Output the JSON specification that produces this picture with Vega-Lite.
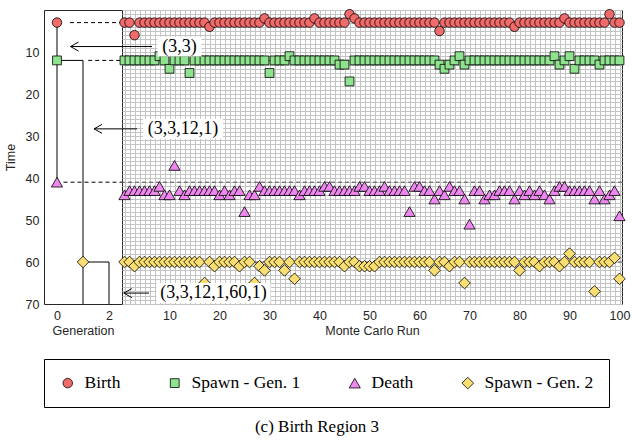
{
"$schema":"https://vega.github.io/schema/vega-lite/v6.json",
"background":"white",
"padding":{"left":3,"top":7,"right":10,"bottom":4},
"bounds":"flush",
"spacing":0,
"title":{"text":"(c) Birth Region 3","orient":"bottom","anchor":"middle","font":"Liberation Serif","fontSize":17,"fontWeight":"normal","color":"black","offset":11},
"config":{
 "view":{"stroke":"#262626","strokeWidth":1},
 "axis":{"labelFont":"Liberation Sans","titleFont":"Liberation Sans","labelFontSize":12.5,"titleFontSize":12.5,"titleFontWeight":"normal","labelColor":"#262626","titleColor":"#262626","domain":false,"ticks":false,"grid":false},
 "legend":{"orient":"bottom","direction":"horizontal","strokeColor":"black","strokeWidth":1,"padding":15,"labelFont":"Liberation Serif","labelFontSize":17.5,"labelColor":"black","symbolSize":130,"symbolStrokeColor":"black","symbolStrokeWidth":0.8,"columnPadding":45,"labelOffset":8,"offset":21,"labelLimit":300}
},
"datasets":{
"runs":[
{"r":1,"s":"Birth","t":3},{"r":2,"s":"Birth","t":3},{"r":3,"s":"Birth","t":6},{"r":4,"s":"Birth","t":3},{"r":5,"s":"Birth","t":3},{"r":6,"s":"Birth","t":3},{"r":7,"s":"Birth","t":3},{"r":8,"s":"Birth","t":3},{"r":9,"s":"Birth","t":3},{"r":10,"s":"Birth","t":3},
{"r":11,"s":"Birth","t":3},{"r":12,"s":"Birth","t":3},{"r":13,"s":"Birth","t":3},{"r":14,"s":"Birth","t":3},{"r":15,"s":"Birth","t":3},{"r":16,"s":"Birth","t":3},{"r":17,"s":"Birth","t":3},{"r":18,"s":"Birth","t":4},{"r":19,"s":"Birth","t":3},{"r":20,"s":"Birth","t":3},
{"r":21,"s":"Birth","t":3},{"r":22,"s":"Birth","t":3},{"r":23,"s":"Birth","t":3},{"r":24,"s":"Birth","t":3},{"r":25,"s":"Birth","t":3},{"r":26,"s":"Birth","t":3},{"r":27,"s":"Birth","t":3},{"r":28,"s":"Birth","t":3},{"r":29,"s":"Birth","t":2},{"r":30,"s":"Birth","t":3},
{"r":31,"s":"Birth","t":3},{"r":32,"s":"Birth","t":3},{"r":33,"s":"Birth","t":3},{"r":34,"s":"Birth","t":3},{"r":35,"s":"Birth","t":3},{"r":36,"s":"Birth","t":3},{"r":37,"s":"Birth","t":3},{"r":38,"s":"Birth","t":3},{"r":39,"s":"Birth","t":2},{"r":40,"s":"Birth","t":3},
{"r":41,"s":"Birth","t":3},{"r":42,"s":"Birth","t":3},{"r":43,"s":"Birth","t":3},{"r":44,"s":"Birth","t":3},{"r":45,"s":"Birth","t":3},{"r":46,"s":"Birth","t":1},{"r":47,"s":"Birth","t":2},{"r":48,"s":"Birth","t":3},{"r":49,"s":"Birth","t":3},{"r":50,"s":"Birth","t":3},
{"r":51,"s":"Birth","t":3},{"r":52,"s":"Birth","t":3},{"r":53,"s":"Birth","t":3},{"r":54,"s":"Birth","t":3},{"r":55,"s":"Birth","t":3},{"r":56,"s":"Birth","t":3},{"r":57,"s":"Birth","t":3},{"r":58,"s":"Birth","t":3},{"r":59,"s":"Birth","t":3},{"r":60,"s":"Birth","t":3},
{"r":61,"s":"Birth","t":3},{"r":62,"s":"Birth","t":3},{"r":63,"s":"Birth","t":3},{"r":64,"s":"Birth","t":5},{"r":65,"s":"Birth","t":3},{"r":66,"s":"Birth","t":3},{"r":67,"s":"Birth","t":3},{"r":68,"s":"Birth","t":3},{"r":69,"s":"Birth","t":3},{"r":70,"s":"Birth","t":3},
{"r":71,"s":"Birth","t":3},{"r":72,"s":"Birth","t":3},{"r":73,"s":"Birth","t":3},{"r":74,"s":"Birth","t":3},{"r":75,"s":"Birth","t":3},{"r":76,"s":"Birth","t":3},{"r":77,"s":"Birth","t":3},{"r":78,"s":"Birth","t":3},{"r":79,"s":"Birth","t":4},{"r":80,"s":"Birth","t":3},
{"r":81,"s":"Birth","t":3},{"r":82,"s":"Birth","t":3},{"r":83,"s":"Birth","t":3},{"r":84,"s":"Birth","t":3},{"r":85,"s":"Birth","t":3},{"r":86,"s":"Birth","t":3},{"r":87,"s":"Birth","t":3},{"r":88,"s":"Birth","t":3},{"r":89,"s":"Birth","t":2},{"r":90,"s":"Birth","t":3},
{"r":91,"s":"Birth","t":3},{"r":92,"s":"Birth","t":3},{"r":93,"s":"Birth","t":3},{"r":94,"s":"Birth","t":3},{"r":95,"s":"Birth","t":3},{"r":96,"s":"Birth","t":3},{"r":97,"s":"Birth","t":3},{"r":98,"s":"Birth","t":1},{"r":99,"s":"Birth","t":3},{"r":100,"s":"Birth","t":3},
{"r":1,"s":"Spawn - Gen. 1","t":12},{"r":2,"s":"Spawn - Gen. 1","t":12},{"r":3,"s":"Spawn - Gen. 1","t":12},{"r":4,"s":"Spawn - Gen. 1","t":12},{"r":5,"s":"Spawn - Gen. 1","t":12},{"r":6,"s":"Spawn - Gen. 1","t":12},{"r":7,"s":"Spawn - Gen. 1","t":12},{"r":8,"s":"Spawn - Gen. 1","t":11},{"r":9,"s":"Spawn - Gen. 1","t":12},{"r":10,"s":"Spawn - Gen. 1","t":14},
{"r":11,"s":"Spawn - Gen. 1","t":12},{"r":12,"s":"Spawn - Gen. 1","t":12},{"r":13,"s":"Spawn - Gen. 1","t":12},{"r":14,"s":"Spawn - Gen. 1","t":15},{"r":15,"s":"Spawn - Gen. 1","t":12},{"r":16,"s":"Spawn - Gen. 1","t":12},{"r":17,"s":"Spawn - Gen. 1","t":12},{"r":18,"s":"Spawn - Gen. 1","t":12},{"r":19,"s":"Spawn - Gen. 1","t":12},{"r":20,"s":"Spawn - Gen. 1","t":12},
{"r":21,"s":"Spawn - Gen. 1","t":12},{"r":22,"s":"Spawn - Gen. 1","t":12},{"r":23,"s":"Spawn - Gen. 1","t":12},{"r":24,"s":"Spawn - Gen. 1","t":12},{"r":25,"s":"Spawn - Gen. 1","t":12},{"r":26,"s":"Spawn - Gen. 1","t":12},{"r":27,"s":"Spawn - Gen. 1","t":12},{"r":28,"s":"Spawn - Gen. 1","t":12},{"r":29,"s":"Spawn - Gen. 1","t":12},{"r":30,"s":"Spawn - Gen. 1","t":15},
{"r":31,"s":"Spawn - Gen. 1","t":12},{"r":32,"s":"Spawn - Gen. 1","t":12},{"r":33,"s":"Spawn - Gen. 1","t":12},{"r":34,"s":"Spawn - Gen. 1","t":11},{"r":35,"s":"Spawn - Gen. 1","t":12},{"r":36,"s":"Spawn - Gen. 1","t":12},{"r":37,"s":"Spawn - Gen. 1","t":12},{"r":38,"s":"Spawn - Gen. 1","t":12},{"r":39,"s":"Spawn - Gen. 1","t":12},{"r":40,"s":"Spawn - Gen. 1","t":12},
{"r":41,"s":"Spawn - Gen. 1","t":12},{"r":42,"s":"Spawn - Gen. 1","t":12},{"r":43,"s":"Spawn - Gen. 1","t":12},{"r":44,"s":"Spawn - Gen. 1","t":13},{"r":45,"s":"Spawn - Gen. 1","t":13},{"r":46,"s":"Spawn - Gen. 1","t":17},{"r":47,"s":"Spawn - Gen. 1","t":12},{"r":48,"s":"Spawn - Gen. 1","t":12},{"r":49,"s":"Spawn - Gen. 1","t":12},{"r":50,"s":"Spawn - Gen. 1","t":12},
{"r":51,"s":"Spawn - Gen. 1","t":12},{"r":52,"s":"Spawn - Gen. 1","t":12},{"r":53,"s":"Spawn - Gen. 1","t":12},{"r":54,"s":"Spawn - Gen. 1","t":12},{"r":55,"s":"Spawn - Gen. 1","t":12},{"r":56,"s":"Spawn - Gen. 1","t":12},{"r":57,"s":"Spawn - Gen. 1","t":12},{"r":58,"s":"Spawn - Gen. 1","t":12},{"r":59,"s":"Spawn - Gen. 1","t":12},{"r":60,"s":"Spawn - Gen. 1","t":12},
{"r":61,"s":"Spawn - Gen. 1","t":12},{"r":62,"s":"Spawn - Gen. 1","t":12},{"r":63,"s":"Spawn - Gen. 1","t":12},{"r":64,"s":"Spawn - Gen. 1","t":13},{"r":65,"s":"Spawn - Gen. 1","t":14},{"r":66,"s":"Spawn - Gen. 1","t":13},{"r":67,"s":"Spawn - Gen. 1","t":12},{"r":68,"s":"Spawn - Gen. 1","t":11},{"r":69,"s":"Spawn - Gen. 1","t":13},{"r":70,"s":"Spawn - Gen. 1","t":12},
{"r":71,"s":"Spawn - Gen. 1","t":12},{"r":72,"s":"Spawn - Gen. 1","t":12},{"r":73,"s":"Spawn - Gen. 1","t":12},{"r":74,"s":"Spawn - Gen. 1","t":12},{"r":75,"s":"Spawn - Gen. 1","t":12},{"r":76,"s":"Spawn - Gen. 1","t":12},{"r":77,"s":"Spawn - Gen. 1","t":12},{"r":78,"s":"Spawn - Gen. 1","t":12},{"r":79,"s":"Spawn - Gen. 1","t":12},{"r":80,"s":"Spawn - Gen. 1","t":12},
{"r":81,"s":"Spawn - Gen. 1","t":12},{"r":82,"s":"Spawn - Gen. 1","t":12},{"r":83,"s":"Spawn - Gen. 1","t":12},{"r":84,"s":"Spawn - Gen. 1","t":12},{"r":85,"s":"Spawn - Gen. 1","t":12},{"r":86,"s":"Spawn - Gen. 1","t":12},{"r":87,"s":"Spawn - Gen. 1","t":11},{"r":88,"s":"Spawn - Gen. 1","t":13},{"r":89,"s":"Spawn - Gen. 1","t":12},{"r":90,"s":"Spawn - Gen. 1","t":11},
{"r":91,"s":"Spawn - Gen. 1","t":14},{"r":92,"s":"Spawn - Gen. 1","t":12},{"r":93,"s":"Spawn - Gen. 1","t":12},{"r":94,"s":"Spawn - Gen. 1","t":12},{"r":95,"s":"Spawn - Gen. 1","t":12},{"r":96,"s":"Spawn - Gen. 1","t":13},{"r":97,"s":"Spawn - Gen. 1","t":12},{"r":98,"s":"Spawn - Gen. 1","t":12},{"r":99,"s":"Spawn - Gen. 1","t":12},{"r":100,"s":"Spawn - Gen. 1","t":12},
{"r":1,"s":"Death","t":44},{"r":2,"s":"Death","t":43},{"r":3,"s":"Death","t":43},{"r":4,"s":"Death","t":43},{"r":5,"s":"Death","t":43},{"r":6,"s":"Death","t":43},{"r":7,"s":"Death","t":43},{"r":8,"s":"Death","t":42},{"r":9,"s":"Death","t":44},{"r":10,"s":"Death","t":44},
{"r":11,"s":"Death","t":37},{"r":12,"s":"Death","t":43},{"r":13,"s":"Death","t":44},{"r":14,"s":"Death","t":43},{"r":15,"s":"Death","t":43},{"r":16,"s":"Death","t":43},{"r":17,"s":"Death","t":43},{"r":18,"s":"Death","t":43},{"r":19,"s":"Death","t":43},{"r":20,"s":"Death","t":44},
{"r":21,"s":"Death","t":43},{"r":22,"s":"Death","t":44},{"r":23,"s":"Death","t":43},{"r":24,"s":"Death","t":43},{"r":25,"s":"Death","t":48},{"r":26,"s":"Death","t":44},{"r":27,"s":"Death","t":44},{"r":28,"s":"Death","t":42},{"r":29,"s":"Death","t":43},{"r":30,"s":"Death","t":43},
{"r":31,"s":"Death","t":43},{"r":32,"s":"Death","t":43},{"r":33,"s":"Death","t":43},{"r":34,"s":"Death","t":43},{"r":35,"s":"Death","t":43},{"r":36,"s":"Death","t":44},{"r":37,"s":"Death","t":43},{"r":38,"s":"Death","t":43},{"r":39,"s":"Death","t":43},{"r":40,"s":"Death","t":43},
{"r":41,"s":"Death","t":42},{"r":42,"s":"Death","t":42},{"r":43,"s":"Death","t":43},{"r":44,"s":"Death","t":43},{"r":45,"s":"Death","t":43},{"r":46,"s":"Death","t":43},{"r":47,"s":"Death","t":43},{"r":48,"s":"Death","t":42},{"r":49,"s":"Death","t":42},{"r":50,"s":"Death","t":43},
{"r":51,"s":"Death","t":43},{"r":52,"s":"Death","t":43},{"r":53,"s":"Death","t":42},{"r":54,"s":"Death","t":43},{"r":55,"s":"Death","t":43},{"r":56,"s":"Death","t":43},{"r":57,"s":"Death","t":43},{"r":58,"s":"Death","t":48},{"r":59,"s":"Death","t":42},{"r":60,"s":"Death","t":42},
{"r":61,"s":"Death","t":43},{"r":62,"s":"Death","t":43},{"r":63,"s":"Death","t":45},{"r":64,"s":"Death","t":43},{"r":65,"s":"Death","t":44},{"r":66,"s":"Death","t":42},{"r":67,"s":"Death","t":43},{"r":68,"s":"Death","t":43},{"r":69,"s":"Death","t":45},{"r":70,"s":"Death","t":51},
{"r":71,"s":"Death","t":43},{"r":72,"s":"Death","t":43},{"r":73,"s":"Death","t":45},{"r":74,"s":"Death","t":44},{"r":75,"s":"Death","t":44},{"r":76,"s":"Death","t":43},{"r":77,"s":"Death","t":43},{"r":78,"s":"Death","t":43},{"r":79,"s":"Death","t":45},{"r":80,"s":"Death","t":43},
{"r":81,"s":"Death","t":44},{"r":82,"s":"Death","t":43},{"r":83,"s":"Death","t":44},{"r":84,"s":"Death","t":43},{"r":85,"s":"Death","t":44},{"r":86,"s":"Death","t":45},{"r":87,"s":"Death","t":43},{"r":88,"s":"Death","t":42},{"r":89,"s":"Death","t":42},{"r":90,"s":"Death","t":43},
{"r":91,"s":"Death","t":43},{"r":92,"s":"Death","t":43},{"r":93,"s":"Death","t":43},{"r":94,"s":"Death","t":43},{"r":95,"s":"Death","t":45},{"r":96,"s":"Death","t":43},{"r":97,"s":"Death","t":45},{"r":98,"s":"Death","t":44},{"r":99,"s":"Death","t":43},{"r":100,"s":"Death","t":49},
{"r":1,"s":"Spawn - Gen. 2","t":60},{"r":2,"s":"Spawn - Gen. 2","t":60},{"r":3,"s":"Spawn - Gen. 2","t":61},{"r":4,"s":"Spawn - Gen. 2","t":60},{"r":5,"s":"Spawn - Gen. 2","t":60},{"r":6,"s":"Spawn - Gen. 2","t":60},{"r":7,"s":"Spawn - Gen. 2","t":60},{"r":8,"s":"Spawn - Gen. 2","t":60},{"r":9,"s":"Spawn - Gen. 2","t":60},{"r":10,"s":"Spawn - Gen. 2","t":60},
{"r":11,"s":"Spawn - Gen. 2","t":60},{"r":12,"s":"Spawn - Gen. 2","t":60},{"r":13,"s":"Spawn - Gen. 2","t":60},{"r":14,"s":"Spawn - Gen. 2","t":60},{"r":15,"s":"Spawn - Gen. 2","t":60},{"r":16,"s":"Spawn - Gen. 2","t":60},{"r":17,"s":"Spawn - Gen. 2","t":65},{"r":18,"s":"Spawn - Gen. 2","t":60},{"r":19,"s":"Spawn - Gen. 2","t":61},{"r":20,"s":"Spawn - Gen. 2","t":60},
{"r":21,"s":"Spawn - Gen. 2","t":60},{"r":22,"s":"Spawn - Gen. 2","t":60},{"r":23,"s":"Spawn - Gen. 2","t":60},{"r":24,"s":"Spawn - Gen. 2","t":61},{"r":25,"s":"Spawn - Gen. 2","t":60},{"r":26,"s":"Spawn - Gen. 2","t":60},{"r":27,"s":"Spawn - Gen. 2","t":65},{"r":28,"s":"Spawn - Gen. 2","t":61},{"r":29,"s":"Spawn - Gen. 2","t":62},{"r":30,"s":"Spawn - Gen. 2","t":60},
{"r":31,"s":"Spawn - Gen. 2","t":60},{"r":32,"s":"Spawn - Gen. 2","t":60},{"r":33,"s":"Spawn - Gen. 2","t":62},{"r":34,"s":"Spawn - Gen. 2","t":60},{"r":35,"s":"Spawn - Gen. 2","t":64},{"r":36,"s":"Spawn - Gen. 2","t":60},{"r":37,"s":"Spawn - Gen. 2","t":60},{"r":38,"s":"Spawn - Gen. 2","t":60},{"r":39,"s":"Spawn - Gen. 2","t":60},{"r":40,"s":"Spawn - Gen. 2","t":60},
{"r":41,"s":"Spawn - Gen. 2","t":60},{"r":42,"s":"Spawn - Gen. 2","t":60},{"r":43,"s":"Spawn - Gen. 2","t":60},{"r":44,"s":"Spawn - Gen. 2","t":60},{"r":45,"s":"Spawn - Gen. 2","t":61},{"r":46,"s":"Spawn - Gen. 2","t":60},{"r":47,"s":"Spawn - Gen. 2","t":60},{"r":48,"s":"Spawn - Gen. 2","t":61},{"r":49,"s":"Spawn - Gen. 2","t":61},{"r":50,"s":"Spawn - Gen. 2","t":61},
{"r":51,"s":"Spawn - Gen. 2","t":61},{"r":52,"s":"Spawn - Gen. 2","t":60},{"r":53,"s":"Spawn - Gen. 2","t":60},{"r":54,"s":"Spawn - Gen. 2","t":60},{"r":55,"s":"Spawn - Gen. 2","t":60},{"r":56,"s":"Spawn - Gen. 2","t":60},{"r":57,"s":"Spawn - Gen. 2","t":60},{"r":58,"s":"Spawn - Gen. 2","t":60},{"r":59,"s":"Spawn - Gen. 2","t":60},{"r":60,"s":"Spawn - Gen. 2","t":60},
{"r":61,"s":"Spawn - Gen. 2","t":60},{"r":62,"s":"Spawn - Gen. 2","t":60},{"r":63,"s":"Spawn - Gen. 2","t":62},{"r":64,"s":"Spawn - Gen. 2","t":60},{"r":65,"s":"Spawn - Gen. 2","t":60},{"r":66,"s":"Spawn - Gen. 2","t":61},{"r":67,"s":"Spawn - Gen. 2","t":60},{"r":68,"s":"Spawn - Gen. 2","t":60},{"r":69,"s":"Spawn - Gen. 2","t":65},{"r":70,"s":"Spawn - Gen. 2","t":60},
{"r":71,"s":"Spawn - Gen. 2","t":60},{"r":72,"s":"Spawn - Gen. 2","t":60},{"r":73,"s":"Spawn - Gen. 2","t":60},{"r":74,"s":"Spawn - Gen. 2","t":60},{"r":75,"s":"Spawn - Gen. 2","t":60},{"r":76,"s":"Spawn - Gen. 2","t":60},{"r":77,"s":"Spawn - Gen. 2","t":60},{"r":78,"s":"Spawn - Gen. 2","t":60},{"r":79,"s":"Spawn - Gen. 2","t":60},{"r":80,"s":"Spawn - Gen. 2","t":62},
{"r":81,"s":"Spawn - Gen. 2","t":60},{"r":82,"s":"Spawn - Gen. 2","t":60},{"r":83,"s":"Spawn - Gen. 2","t":60},{"r":84,"s":"Spawn - Gen. 2","t":61},{"r":85,"s":"Spawn - Gen. 2","t":60},{"r":86,"s":"Spawn - Gen. 2","t":60},{"r":87,"s":"Spawn - Gen. 2","t":60},{"r":88,"s":"Spawn - Gen. 2","t":61},{"r":89,"s":"Spawn - Gen. 2","t":60},{"r":90,"s":"Spawn - Gen. 2","t":58},
{"r":91,"s":"Spawn - Gen. 2","t":60},{"r":92,"s":"Spawn - Gen. 2","t":60},{"r":93,"s":"Spawn - Gen. 2","t":60},{"r":94,"s":"Spawn - Gen. 2","t":60},{"r":95,"s":"Spawn - Gen. 2","t":67},{"r":96,"s":"Spawn - Gen. 2","t":60},{"r":97,"s":"Spawn - Gen. 2","t":60},{"r":98,"s":"Spawn - Gen. 2","t":60},{"r":99,"s":"Spawn - Gen. 2","t":59},{"r":100,"s":"Spawn - Gen. 2","t":64}
],
"ann":[
{"label":"(3,3)","cx":12.0,"t":8.7,"tip":-9.8,"tail":6.5},
{"label":"(3,3,12,1)","cx":12.7,"t":28.3,"tip":-5.1,"tail":3.5},
{"label":"(3,3,12,1,60,1)","cx":18.8,"t":67.4,"tip":0.86,"tail":5.9}
]
},
"resolve":{"scale":{"color":"shared","shape":"shared","size":"shared"}},
"hconcat":[
{"width":78,"height":294,
 "layer":[
  {"data":{"values":[{"g":0,"g2":0,"t":3,"t2":41},{"g":0,"g2":1,"t":12,"t2":12},{"g":1,"g2":1,"t":12,"t2":70},{"g":1,"g2":2,"t":60,"t2":60},{"g":2,"g2":2,"t":60,"t2":70}]},
   "mark":{"type":"rule","color":"black","strokeWidth":1},
   "encoding":{
    "x":{"field":"g","type":"quantitative","scale":{"domain":[-0.5,2.5],"nice":false,"zero":false},"axis":{"values":[0,1,2],"title":"Generation","labelPadding":5,"titlePadding":3}},
    "x2":{"field":"g2"},
    "y":{"field":"t","type":"quantitative","scale":{"domain":[0,70],"reverse":true,"nice":false,"zero":false},"axis":{"values":[10,20,30,40,50,60,70],"title":"Time","labelPadding":5,"titlePadding":8}},
    "y2":{"field":"t2"}}},
  {"data":{"values":[{"g":0.5,"g2":2.5,"t":3},{"g":1.2,"g2":2.5,"t":12},{"g":0.25,"g2":2.5,"t":41}]},
   "mark":{"type":"rule","color":"black","strokeWidth":1,"strokeDash":[4,3]},
   "encoding":{"x":{"field":"g","type":"quantitative"},"x2":{"field":"g2"},"y":{"field":"t","type":"quantitative"}}},
  {"data":{"values":[{"g":0,"t":3,"s":"Birth"},{"g":0,"t":12,"s":"Spawn - Gen. 1"},{"g":0,"t":41,"s":"Death"},{"g":1,"t":60,"s":"Spawn - Gen. 2"}]},
   "mark":{"type":"point","filled":true,"stroke":"black","strokeWidth":0.8,"opacity":1},
   "encoding":{"x":{"field":"g","type":"quantitative"},"y":{"field":"t","type":"quantitative"},
    "color":{"field":"s","type":"nominal","scale":{"domain":["Birth","Spawn - Gen. 1","Death","Spawn - Gen. 2"],"range":["#F26B6B","#8FE38F","#EE88EE","#F9DF72"]},"legend":{"title":null}},
    "shape":{"field":"s","type":"nominal","scale":{"domain":["Birth","Spawn - Gen. 1","Death","Spawn - Gen. 2"],"range":["circle","square","triangle-up","diamond"]},"legend":{"title":null}},
    "size":{"field":"s","type":"nominal","scale":{"type":"ordinal","domain":["Birth","Spawn - Gen. 1","Death","Spawn - Gen. 2"],"range":[90,78,125,135]},"legend":null}}}
 ]},
{"width":500,"height":294,
 "layer":[
  {"data":{"values":[{"t":3},{"t":12},{"t":41},{"t":60}]},
   "mark":{"type":"rule","color":"#555555","strokeWidth":1,"strokeDash":[4,3]},
   "encoding":{"y":{"field":"t","type":"quantitative","scale":{"domain":[0,70],"reverse":true,"nice":false,"zero":false},"axis":{"tickCount":70,"grid":true,"gridColor":"#c4c4c4","gridWidth":1,"labels":false,"title":null}}}},
  {"data":{"name":"runs"},
   "mark":{"type":"point","filled":true,"stroke":"black","strokeWidth":0.8,"opacity":1},
   "encoding":{
    "x":{"field":"r","type":"quantitative","scale":{"domain":[0.5,100.5],"nice":false,"zero":false},"axis":{"tickCount":100,"grid":true,"gridColor":"#c4c4c4","gridWidth":1,"labelExpr":"datum.value % 10 === 0 ? datum.label : ''","labelOverlap":false,"labelFlush":false,"title":"Monte Carlo Run","labelPadding":5,"titlePadding":3}},
    "y":{"field":"t","type":"quantitative"},
    "color":{"field":"s","type":"nominal","scale":{"domain":["Birth","Spawn - Gen. 1","Death","Spawn - Gen. 2"],"range":["#F26B6B","#8FE38F","#EE88EE","#F9DF72"]},"legend":{"title":null}},
    "shape":{"field":"s","type":"nominal","scale":{"domain":["Birth","Spawn - Gen. 1","Death","Spawn - Gen. 2"],"range":["circle","square","triangle-up","diamond"]},"legend":{"title":null}},
    "size":{"field":"s","type":"nominal","scale":{"type":"ordinal","domain":["Birth","Spawn - Gen. 1","Death","Spawn - Gen. 2"],"range":[90,78,125,135]},"legend":null}}},
  {"data":{"name":"ann"},"transform":[{"filter":"datum.label === '(3,3)'"}],
   "mark":{"type":"point","shape":"M-1,-0.45H1V0.45H-1Z","filled":true,"fill":"white","strokeWidth":0,"opacity":1,"size":1936},
   "encoding":{"x":{"field":"cx","type":"quantitative"},"y":{"field":"t","type":"quantitative"}}},
  {"data":{"name":"ann"},"transform":[{"filter":"datum.label === '(3,3,12,1)'"}],
   "mark":{"type":"point","shape":"M-1,-0.25H1V0.25H-1Z","filled":true,"fill":"white","strokeWidth":0,"opacity":1,"size":6400},
   "encoding":{"x":{"field":"cx","type":"quantitative"},"y":{"field":"t","type":"quantitative"}}},
  {"data":{"name":"ann"},"transform":[{"filter":"datum.label === '(3,3,12,1,60,1)'"}],
   "mark":{"type":"point","shape":"M-1,-0.175H1V0.175H-1Z","filled":true,"fill":"white","strokeWidth":0,"opacity":1,"size":12996},
   "encoding":{"x":{"field":"cx","type":"quantitative"},"y":{"field":"t","type":"quantitative"}}},
  {"data":{"name":"ann"},
   "mark":{"type":"text","font":"Liberation Serif","fontSize":18,"align":"center","baseline":"middle","color":"black"},
   "encoding":{"x":{"field":"cx","type":"quantitative"},"y":{"field":"t","type":"quantitative"},"text":{"field":"label"}}},
  {"data":{"name":"ann"},
   "mark":{"type":"rule","color":"black","strokeWidth":1},
   "encoding":{"x":{"field":"tip","type":"quantitative"},"x2":{"field":"tail"},"y":{"field":"t","type":"quantitative"}}},
  {"data":{"name":"ann"},
   "mark":{"type":"point","shape":"M0,0L1.6,-0.9M0,0L1.6,0.9","filled":false,"color":"black","strokeWidth":1,"opacity":1,"size":100},
   "encoding":{"x":{"field":"tip","type":"quantitative"},"y":{"field":"t","type":"quantitative"}}}
 ]}
]
}
